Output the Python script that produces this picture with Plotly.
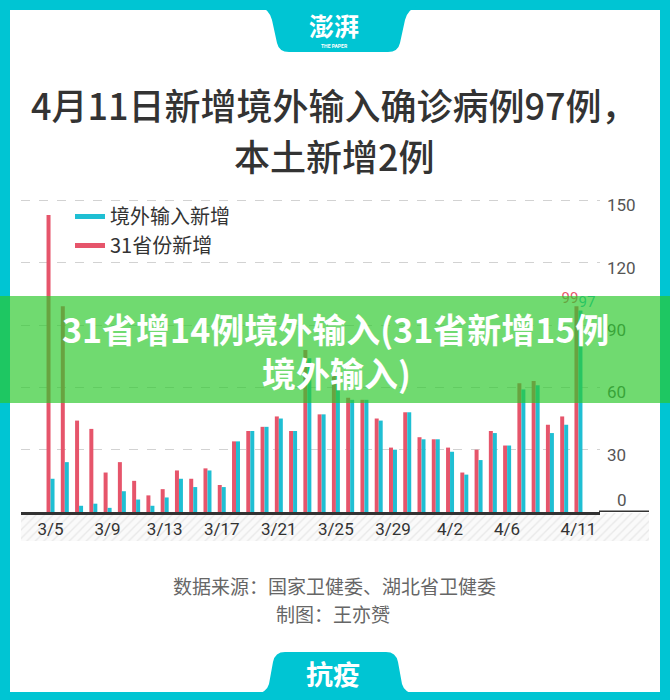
import plotly.graph_objects as go

# ---------------- data ----------------
dates = ['3/5', '3/6', '3/7', '3/8', '3/9', '3/10', '3/11', '3/12', '3/13', '3/14',
         '3/15', '3/16', '3/17', '3/18', '3/19', '3/20', '3/21', '3/22', '3/23', '3/24',
         '3/25', '3/26', '3/27', '3/28', '3/29', '3/30', '3/31',
         '4/1', '4/2', '4/3', '4/4', '4/5', '4/6', '4/7', '4/8', '4/9', '4/10', '4/11']
total_new = [143, 99, 44, 40, 19, 24, 15, 8, 11, 20,
             16, 21, 13, 34, 39, 41, 46, 39, 78, 47,
             67, 55, 54, 45, 31, 48, 36,
             35, 31, 19, 30, 39, 32, 62, 63, 42, 46, 99]
imported = [16, 24, 3, 4, 2, 10, 6, 3, 7, 16,
            12, 20, 12, 34, 39, 41, 45, 39, 74, 47,
            67, 54, 54, 44, 30, 48, 35,
            35, 29, 18, 25, 38, 32, 59, 61, 38, 42, 97]
tick_dates = ['3/5', '3/9', '3/13', '3/17', '3/21', '3/25', '3/29', '4/2', '4/6', '4/11']
y_ticks = [30, 60, 90, 120, 150]
name_imported = '境外输入新增'
name_total = '31省份新增'

title_1 = '4月11日新增境外输入确诊病例97例，'
title_2 = '本土新增2例'
banner_1 = '31省增14例境外输入(31省新增15例'
banner_2 = '境外输入)'
source_1 = '数据来源：国家卫健委、湖北省卫健委'
source_2 = '制图：王亦赟'

# ---------------- styling ----------------
W, H = 670, 700
TEAL = '#00c5d3'
RED = '#e6556b'
CYAN = '#1fbfd3'
CJK = 'Noto Sans CJK SC'


def px(x):
    return x / W


def py(y):
    return 1 - y / H


def path(points):
    out = []
    for cmd, pts in points:
        coords = ' '.join(f'{px(a):.5f},{py(b):.5f}' for a, b in pts)
        out.append(f'{cmd} {coords}')
    return ' '.join(out) + ' Z'


fig = go.Figure()

# hatched strip behind the date labels (own subplot, drawn first)
fig.add_trace(go.Bar(
    x=[0.5], y=[1], width=[1], xaxis='x', yaxis='y',
    marker=dict(color='#fafafa', line=dict(width=0),
                pattern=dict(shape='/', size=6, solidity=0.22,
                             fgcolor='#d6d6d6', bgcolor='#fafafa')),
    showlegend=False, hoverinfo='skip'))

# main bars
fig.add_trace(go.Bar(x=dates, y=total_new, name=name_total, marker=dict(color=RED, line=dict(width=0)),
                     xaxis='x2', yaxis='y2', showlegend=False))
fig.add_trace(go.Bar(x=dates, y=imported, name=name_imported, marker=dict(color=CYAN, line=dict(width=0)),
                     xaxis='x2', yaxis='y2', showlegend=False))

# legend entries (line swatches)
fig.add_trace(go.Scatter(x=[None], y=[None], mode='lines', name=name_imported,
                         line=dict(color=CYAN, width=5), xaxis='x2', yaxis='y2'))
fig.add_trace(go.Scatter(x=[None], y=[None], mode='lines', name=name_total,
                         line=dict(color=RED, width=5), xaxis='x2', yaxis='y2'))

# value labels on the last day
fig.add_trace(go.Scatter(x=[dates[-1]], y=[total_new[-1]], mode='text', text=[str(total_new[-1])],
                         textposition='top left', textfont=dict(color=RED, size=15, family='Roboto'),
                         xaxis='x2', yaxis='y2', showlegend=False, hoverinfo='skip'))
fig.add_trace(go.Scatter(x=[dates[-1]], y=[imported[-1]], mode='text', text=[str(imported[-1])],
                         textposition='top right', textfont=dict(color=CYAN, size=15, family='Roboto'),
                         xaxis='x2', yaxis='y2', showlegend=False, hoverinfo='skip'))

# carrier for the "0" label axis
fig.add_trace(go.Scatter(x=[dates[0]], y=[None], mode='markers', xaxis='x2', yaxis='y3',
                         showlegend=False, hoverinfo='skip'))

tickfont = dict(family='Roboto', size=17, color='#555')

fig.update_layout(
    width=W, height=H,
    margin=dict(l=0, r=0, t=0, b=0),
    paper_bgcolor=TEAL,
    plot_bgcolor='rgba(0,0,0,0)',
    font=dict(family=CJK, color='#333'),
    barmode='group', bargap=0.44, bargroupgap=0,
    hovermode=False,
    xaxis=dict(domain=[px(21), px(649)], range=[0, 1], visible=False, anchor='y', fixedrange=True),
    yaxis=dict(domain=[py(541), py(513)], range=[0, 1], visible=False, anchor='x', fixedrange=True),
    xaxis2=dict(domain=[px(21), px(600)], anchor='y2', type='category', range=[-2.07, 38.51],
                tickmode='array', tickvals=tick_dates, ticktext=tick_dates, ticks='',
                showline=True, linecolor='#333', linewidth=3, showgrid=False,
                tickfont=dict(family='Roboto', size=17, color='#333')),
    yaxis2=dict(domain=[py(512), py(190)], anchor='x2', side='right', range=[0, 155],
                tickmode='array', tickvals=y_ticks, ticks='', showline=False, zeroline=False,
                showgrid=True, gridcolor='#d2d2d2', griddash='dash', gridwidth=1,
                tickfont=tickfont, ticklabelshift=5, ticklabelstandoff=6),
    yaxis3=dict(overlaying='y2', anchor='x2', side='right', range=[0, 155],
                tickmode='array', tickvals=[0], ticks='', showgrid=False, zeroline=False,
                showline=False, ticklabelposition='outside top', ticklabelstandoff=16,
                tickfont=tickfont),
    legend=dict(x=px(70), y=py(197), xanchor='left', yanchor='top',
                bgcolor='rgba(0,0,0,0)', font=dict(family=CJK, size=20, color='#333'),
                itemwidth=30, tracegroupgap=0),
)

shapes = [
    dict(type='rect', xref='paper', yref='paper', x0=px(10), x1=px(660), y0=py(692), y1=py(10),
         fillcolor='white', line=dict(width=0), layer='below'),
    dict(type='path', xref='paper', yref='paper', layer='below', fillcolor=TEAL, line=dict(width=0),
         path=path([('M', [(257, 4)]), ('Q', [(270, 10), (272, 20)]), ('L', [(277, 43)]),
                    ('Q', [(279, 52), (289, 52)]), ('L', [(388, 52)]), ('Q', [(398, 52), (400, 43)]),
                    ('L', [(405, 20)]), ('Q', [(407, 10), (420, 4)])])),
    dict(type='path', xref='paper', yref='paper', layer='below', fillcolor=TEAL, line=dict(width=0),
         path=path([('M', [(254, 696)]), ('Q', [(267, 692), (269, 684)]), ('L', [(273, 662)]),
                    ('Q', [(275, 652), (285, 652)]), ('L', [(386, 652)]), ('Q', [(396, 652), (398, 662)]),
                    ('L', [(402, 684)]), ('Q', [(404, 692), (417, 696)])])),
    dict(type='line', xref='paper', yref='y2', x0=px(599), x1=px(649), y0=0, y1=0,
         line=dict(color='#333', width=3), layer='above'),
    dict(type='rect', xref='paper', yref='paper', x0=0, x1=1, y0=py(403), y1=py(296),
         fillcolor='rgba(44,200,44,0.68)', line=dict(width=0), layer='above'),
]
fig.update_layout(shapes=shapes)


def note(text, x, y, size, color, weight=400, family=CJK):
    return dict(text=text, x=px(x), y=py(y), xref='paper', yref='paper', showarrow=False,
                xanchor='center', yanchor='middle',
                font=dict(family=family, size=size, color=color, weight=weight))


fig.update_layout(annotations=[
    note('澎湃', 334, 25, 25, 'white', 700),
    note('THE PAPER', 334, 46, 5, 'white', 700, 'Roboto'),
    note(title_1, 334, 104, 36, '#333', 500),
    note(title_2, 334, 155, 36, '#333', 500),
    note(banner_1, 335, 328, 34, 'white', 700),
    note(banner_2, 336, 373, 34, 'white', 700),
    note(source_1, 334, 585, 19, '#666', 400),
    note(source_2, 333, 613, 19, '#666', 400),
    note('抗疫', 333, 673, 27, 'white', 700),
])

fig.write_html('out.html', config={'displayModeBar': False},
               post_script="document.body.style.margin='0';document.body.style.overflow='hidden';")
